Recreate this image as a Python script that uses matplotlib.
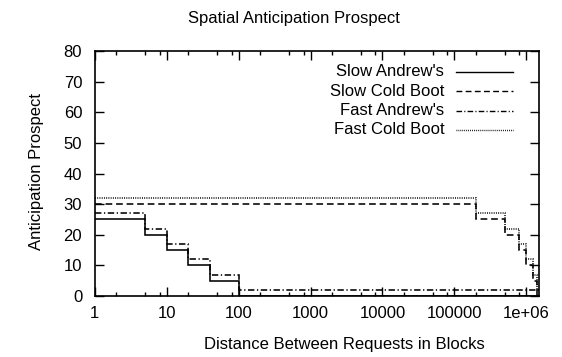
import matplotlib
matplotlib.use("Agg")
import matplotlib.pyplot as plt
from matplotlib.ticker import LogLocator, FixedLocator, NullFormatter, FuncFormatter
from matplotlib.lines import Line2D

# ---- data ----
andrew_edges = [1, 5, 10, 20, 40, 100, 1.5e6]
slow_andrew = [25, 20, 15, 10, 5, 0]
fast_andrew = [27, 22, 17, 12, 7, 2]

cold_edges = [1, 2e5, 5e5, 8e5, 1e6, 1.25e6, 1.4e6, 1.5e6]
slow_cold = [30, 25, 20, 15, 10, 5, 0]
fast_cold = [32, 27, 22, 17, 12, 7, 2]

series_names = ["Slow Andrew's", "Slow Cold Boot", "Fast Andrew's", "Fast Cold Boot"]
x_tick_vals = [1, 10, 100, 1000, 10000, 100000, 1000000]
x_tick_labels = ["1", "10", "100", "1000", "10000", "100000", "1e+06"]
y_ticks = [0, 10, 20, 30, 40, 50, 60, 70, 80]

plt.rcParams['font.family'] = ['Liberation Sans', 'DejaVu Sans']
FS = 12

fig = plt.figure(figsize=(5.62, 3.57), dpi=100)
L, R, B, T = 94.7 / 562, 539 / 562, (357 - 296) / 357, (357 - 51) / 357
ax = fig.add_axes([L, B, R - L, T - B])

styles = [
    dict(linestyle='-'),
    dict(linestyle=(0, (4.2, 2.4))),
    dict(linestyle=(0, (4.0, 1.6, 0.8, 1.6))),
    dict(linestyle=(0, (0.6, 0.8))),
]
data = [(slow_andrew, andrew_edges), (slow_cold, cold_edges),
        (fast_andrew, andrew_edges), (fast_cold, cold_edges)]
for (vals, edges), st in zip(data, styles):
    ax.stairs(vals, edges, baseline=None, color='black', linewidth=1.15, **st)

ax.set_xscale('log')
ax.set_xlim(1, 1.5e6)
ax.set_ylim(0, 80)

ax.xaxis.set_major_locator(FixedLocator(x_tick_vals))
ax.xaxis.set_major_formatter(FuncFormatter(
    lambda v, p: x_tick_labels[x_tick_vals.index(int(round(v)))] if int(round(v)) in x_tick_vals else ""))
ax.xaxis.set_minor_locator(LogLocator(base=10, subs=[2, 5, 8], numticks=20))
ax.xaxis.set_minor_formatter(NullFormatter())
ax.set_yticks(y_ticks)

ax.tick_params(axis='both', which='both', direction='in', top=True, right=True,
               labelsize=FS, width=1.0, color='black')
ax.tick_params(axis='both', which='major', length=6.5)
ax.tick_params(axis='both', which='minor', length=3.2)
ax.tick_params(axis='x', which='major', pad=7)
ax.tick_params(axis='y', which='major', pad=9)

for s in ax.spines.values():
    s.set_linewidth(1.2)

fig.text(344 / 562, 1 - 345 / 357, "Distance Between Requests in Blocks", fontsize=FS,
         ha='center', va='center')
fig.text(37 / 562, 1 - 171 / 357, "Anticipation Prospect", fontsize=FS,
         ha='center', va='center', rotation=90)
fig.text(294 / 562, 1 - 19 / 357, "Spatial Anticipation Prospect", fontsize=FS,
         ha='center', va='center')

# legend (text right-aligned, sample on the right)
rows_y = [0.915, 0.836, 0.757, 0.678]
for name, st, yy in zip(series_names, styles, rows_y):
    ax.text(0.787, yy, name, transform=ax.transAxes, ha='right', va='center', fontsize=FS)
    ax.add_line(Line2D([0.8125, 0.941], [yy, yy], transform=ax.transAxes,
                       color='black', linewidth=1.0, **st))

fig.savefig("out.png", dpi=100)
